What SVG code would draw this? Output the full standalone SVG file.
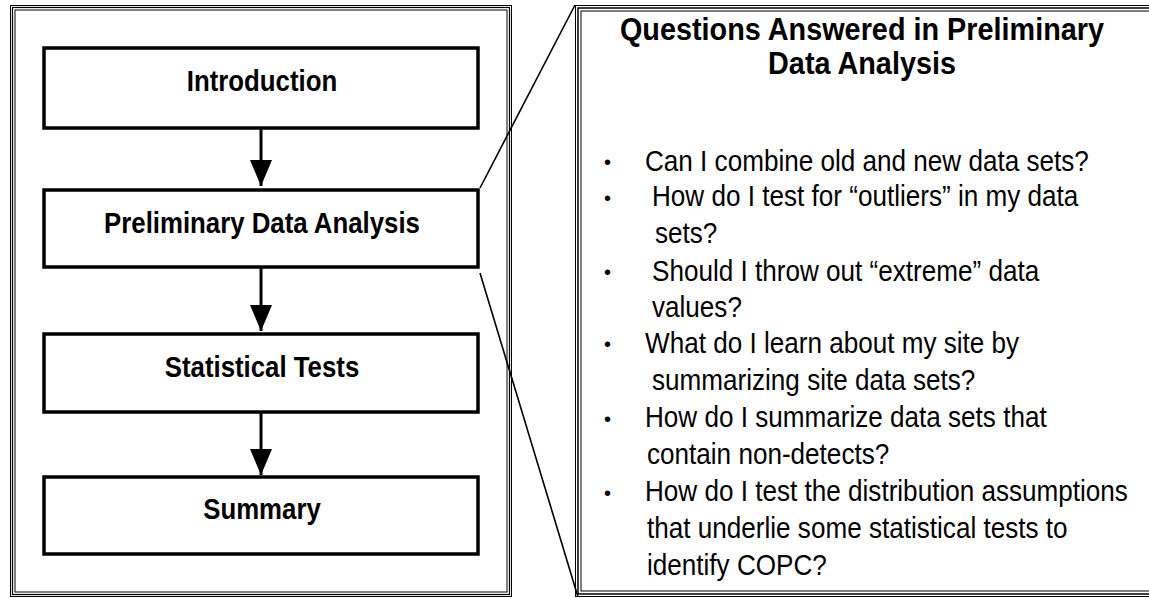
<svg xmlns="http://www.w3.org/2000/svg" width="1149" height="598" viewBox="0 0 1149 598">
<defs>
<style>
.frame{fill:none;stroke:#000}
.box{fill:#fff;stroke:#000;stroke-width:3.5}
.lbl{font-family:"Liberation Sans","Arial",sans-serif;font-weight:bold;font-size:29px;text-anchor:middle;fill:#000}
.title{font-family:"Liberation Sans","Arial",sans-serif;font-weight:bold;font-size:31px;text-anchor:middle;fill:#000}
.body{font-family:"Liberation Sans","Arial",sans-serif;font-size:29px;fill:#000}
.bul{font-family:"Liberation Sans","Arial",sans-serif;font-size:20px;fill:#000}
.conn{stroke:#000;stroke-width:3;fill:none}
.zoom{stroke:#000;stroke-width:1.6;fill:none}
</style>
<marker id="ah" viewBox="0 0 26 22" refX="26" refY="11" markerWidth="26" markerHeight="22" markerUnits="userSpaceOnUse" orient="auto">
<path d="M0,0 L26,11 L0,22 Z" fill="#000"/>
</marker>
</defs>
<rect width="1149" height="598" fill="#fff"/>
<g id="left-frame">
<rect class="frame" x="10.5" y="5.5" width="501" height="591" stroke-width="1"/>
<rect class="frame" x="12.5" y="7.5" width="497" height="587" stroke-width="1.2"/>
<rect class="frame" x="15" y="10" width="492" height="582" stroke-width="1"/>
</g>
<g id="right-frame">
<rect class="frame" x="575.5" y="5.5" width="600" height="591" stroke-width="1"/>
<rect class="frame" x="578" y="8" width="600" height="586" stroke-width="1.5"/>
<rect class="frame" x="581" y="11" width="600" height="580" stroke-width="1"/>
</g>
<g id="connectors">
<line class="conn" x1="261" y1="128" x2="261" y2="186" marker-end="url(#ah)"/>
<line class="conn" x1="261" y1="267" x2="261" y2="331" marker-end="url(#ah)"/>
<line class="conn" x1="261" y1="412" x2="261" y2="475" marker-end="url(#ah)"/>
<line class="zoom" x1="480" y1="188" x2="575" y2="5"/>
<line class="zoom" x1="480" y1="273" x2="578" y2="597"/>
</g>
<g id="introduction">
<rect class="box" x="44" y="48" width="434" height="80"/>
<text class="lbl" transform="translate(262,91) scale(0.89,1)">Introduction</text>
</g>
<g id="preliminary">
<rect class="box" x="44" y="190" width="434" height="77"/>
<text class="lbl" transform="translate(262,233) scale(0.89,1)">Preliminary Data Analysis</text>
</g>
<g id="statistical">
<rect class="box" x="44" y="334" width="434" height="78"/>
<text class="lbl" transform="translate(262,377) scale(0.89,1)">Statistical Tests</text>
</g>
<g id="summary">
<rect class="box" x="44" y="477" width="434" height="77"/>
<text class="lbl" transform="translate(262,519) scale(0.89,1)">Summary</text>
</g>
<g id="questions">
<text class="title" transform="translate(862,40) scale(0.93,1)">Questions Answered in Preliminary</text>
<text class="title" transform="translate(862,74) scale(0.93,1)">Data Analysis</text>
<g class="bul">
<text x="604" y="169">•</text>
<text x="604" y="205">•</text>
<text x="604" y="279">•</text>
<text x="604" y="351">•</text>
<text x="604" y="426">•</text>
<text x="604" y="500">•</text>
</g>
<g class="body">
<text transform="translate(645,171) scale(0.9,1)">Can I combine old and new data sets?</text>
<text transform="translate(652,206) scale(0.9,1)">How do I test for “outliers” in my data</text>
<text transform="translate(655,243) scale(0.9,1)">sets?</text>
<text transform="translate(652,281) scale(0.9,1)">Should I throw out “extreme” data</text>
<text transform="translate(652,317) scale(0.9,1)">values?</text>
<text transform="translate(645,353) scale(0.9,1)">What do I learn about my site by</text>
<text transform="translate(652,390) scale(0.9,1)">summarizing site data sets?</text>
<text transform="translate(645,427) scale(0.9,1)">How do I summarize data sets that</text>
<text transform="translate(647,464) scale(0.9,1)">contain non-detects?</text>
<text transform="translate(645,501) scale(0.9,1)">How do I test the distribution assumptions</text>
<text transform="translate(647,538) scale(0.9,1)">that underlie some statistical tests to</text>
<text transform="translate(647,575) scale(0.9,1)">identify COPC?</text>
</g>
</g>
</svg>
